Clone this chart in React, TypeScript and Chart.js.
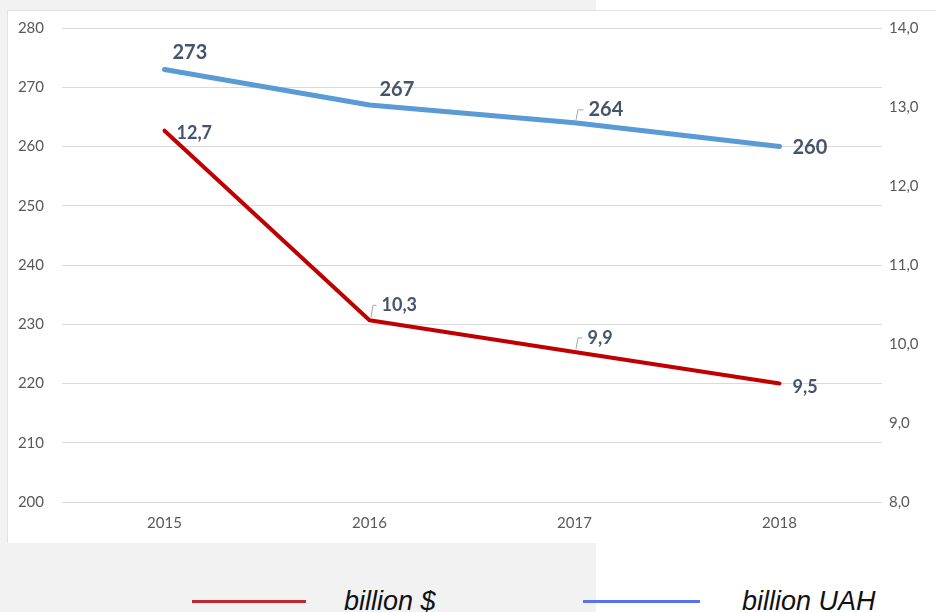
import React, { useEffect, useRef } from "react";
import { Chart, registerables } from "chart.js";

Chart.register(...registerables);

const years = ["2015", "2016", "2017", "2018"];
const uahValues = [273, 267, 264, 260];
const usdValues = [12.7, 10.3, 9.9, 9.5];
const legendLabels = ["billion $", "billion UAH"];

const LABEL_COLOR = "#44546a";
const TICK_COLOR = "#595959";

const fmtComma = (v: number) => v.toFixed(1).replace(".", ",");

// label placement (layout only)
const labelLayout: Record<number, { dx: number; dy: number; leader: boolean }[]> = {
  0: [
    { dx: 8, dy: -17, leader: false },
    { dx: 10, dy: -15, leader: false },
    { dx: 14, dy: -13, leader: true },
    { dx: 13, dy: 1, leader: false },
  ],
  1: [
    { dx: 12, dy: 2, leader: false },
    { dx: 12, dy: -15, leader: true },
    { dx: 13, dy: -14, leader: true },
    { dx: 13, dy: 4, leader: false },
  ],
};

const dataLabelPlugin = {
  id: "dataLabelPlugin",
  afterDatasetsDraw(chart: any) {
    const ctx = chart.ctx;
    ctx.save();
    chart.data.datasets.forEach((ds: any, di: number) => {
      const meta = chart.getDatasetMeta(di);
      meta.data.forEach((pt: any, i: number) => {
        const lay = labelLayout[di][i];
        const v = ds.data[i];
        const text = di === 0 ? String(v) : fmtComma(v);
        const x = pt.x;
        const y = pt.y;
        const tx = x + lay.dx;
        const ty = y + lay.dy;
        if (lay.leader) {
          ctx.strokeStyle = "#a6a6a6";
          ctx.lineWidth = 1;
          ctx.beginPath();
          ctx.moveTo(x + 1.5, y - 3);
          ctx.lineTo(x + 3.5, ty);
          ctx.lineTo(tx - 5, ty);
          ctx.stroke();
        }
        ctx.fillStyle = LABEL_COLOR;
        ctx.font = di === 0 ? "bold 20px Lato" : "bold 18px Lato";
        ctx.textAlign = "left";
        ctx.textBaseline = "middle";
        ctx.fillText(text, tx, ty);
      });
    });
    ctx.restore();
  },
};

export default function App() {
  const canvasRef = useRef<HTMLCanvasElement | null>(null);

  useEffect(() => {
    const canvas = canvasRef.current;
    if (!canvas) return;
    const chart = new Chart(canvas, {
      type: "line",
      data: {
        labels: years,
        datasets: [
          {
            label: legendLabels[1],
            data: uahValues,
            borderColor: "#5b9bd5",
            borderWidth: 5,
            borderCapStyle: "round",
            borderJoinStyle: "round",
            pointRadius: 0,
            tension: 0,
            yAxisID: "y",
          },
          {
            label: legendLabels[0],
            data: usdValues,
            borderColor: "#c00000",
            borderWidth: 4,
            borderCapStyle: "round",
            borderJoinStyle: "round",
            pointRadius: 0,
            tension: 0,
            yAxisID: "y1",
          },
        ],
      },
      options: {
        animation: false,
        responsive: false,
        maintainAspectRatio: false,
        layout: { padding: { top: 28, left: 0, right: 0, bottom: 0 } },
        plugins: {
          legend: { display: false },
          tooltip: { enabled: false },
        },
        scales: {
          x: {
            type: "category",
            offset: true,
            grid: { display: false, drawTicks: false },
            border: { display: false },
            ticks: {
              color: TICK_COLOR,
              font: { family: "Lato", size: 15 },
              padding: 12,
            },
            afterFit(scale: any) {
              scale.height = 43;
            },
          },
          y: {
            position: "left",
            min: 200,
            max: 280,
            ticks: {
              stepSize: 10,
              color: TICK_COLOR,
              font: { family: "Lato", size: 15 },
              padding: 18,
            },
            grid: { color: "#d9d9d9", lineWidth: 1, drawTicks: false },
            border: { display: false },
            afterFit(scale: any) {
              scale.width = 62;
            },
          },
          y1: {
            position: "right",
            min: 8,
            max: 14,
            ticks: {
              stepSize: 1,
              color: TICK_COLOR,
              font: { family: "Lato", size: 15 },
              padding: 7,
              callback: (v: any) => fmtComma(Number(v)),
            },
            grid: { display: false, drawTicks: false },
            border: { display: false },
            afterFit(scale: any) {
              scale.width = 54;
            },
          },
        },
      },
      plugins: [dataLabelPlugin],
    } as any);
    return () => chart.destroy();
  }, []);

  return (
    <div
      style={{
        position: "fixed",
        left: 0,
        top: 0,
        width: 936,
        height: 612,
        overflow: "hidden",
        background: "#ffffff",
      }}
    >
      <div
        style={{
          position: "absolute",
          left: 0,
          top: 0,
          width: 596,
          height: 612,
          background: "#f2f2f2",
        }}
      />
      <div
        style={{
          position: "absolute",
          left: 7,
          top: 10,
          width: 929,
          height: 533,
          background: "#ffffff",
          borderLeft: "1px solid #e3e3e3",
          borderTop: "1px solid #e3e3e3",
          boxSizing: "border-box",
        }}
      />
      <canvas
        ref={canvasRef}
        width={936}
        height={545}
        style={{ position: "absolute", left: 0, top: 0, width: 936, height: 545 }}
      />
      <div
        style={{
          position: "absolute",
          left: 192,
          top: 600,
          width: 114,
          height: 3,
          background: "#c0282d",
        }}
      />
      <span
        style={{
          position: "absolute",
          left: 344,
          top: 588,
          fontFamily: "'Liberation Sans', Arial, sans-serif",
          fontStyle: "italic",
          fontSize: 27,
          lineHeight: "27px",
          color: "#111111",
          whiteSpace: "nowrap",
        }}
      >
        {legendLabels[0]}
      </span>
      <div
        style={{
          position: "absolute",
          left: 583,
          top: 600,
          width: 117,
          height: 3,
          background: "#5a72f0",
        }}
      />
      <span
        style={{
          position: "absolute",
          left: 742,
          top: 588,
          fontFamily: "'Liberation Sans', Arial, sans-serif",
          fontStyle: "italic",
          fontSize: 27,
          lineHeight: "27px",
          color: "#111111",
          whiteSpace: "nowrap",
        }}
      >
        {legendLabels[1]}
      </span>
    </div>
  );
}
